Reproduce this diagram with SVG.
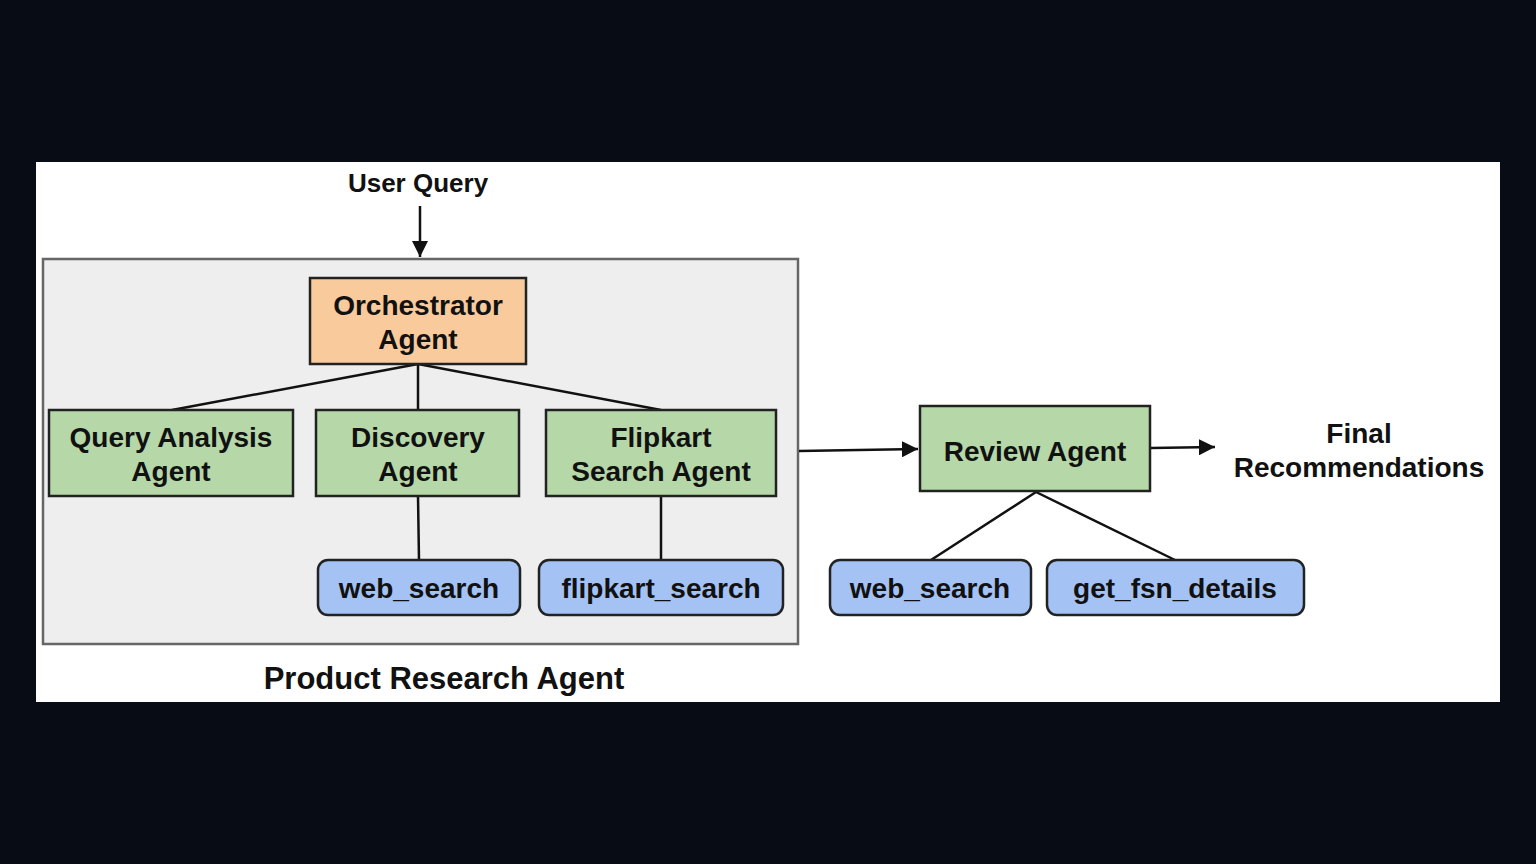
<svg xmlns="http://www.w3.org/2000/svg" width="1536" height="864" viewBox="0 0 1536 864">
<defs>
<style>
.t{font-family:"Liberation Sans",Arial,sans-serif;font-weight:bold;font-size:28px;fill:#111;text-anchor:middle}
.agent{fill:#b6d7a8;stroke:#222;stroke-width:2.5}
.tool{fill:#a4c2f4;stroke:#222;stroke-width:2.5}
.c{stroke:#111;stroke-width:2.5;fill:none}
</style>
<marker id="ah" viewBox="0 0 10 10" refX="10" refY="5" markerWidth="6.5" markerHeight="6.5" orient="auto" markerUnits="strokeWidth">
<path d="M0,0 L10,5 L0,10 z" fill="#111"/>
</marker>
</defs>
<rect x="0" y="0" width="1536" height="864" fill="#080c14"/>
<rect x="36" y="162" width="1464" height="540" fill="#ffffff"/>

<g id="container">
<rect x="43" y="259" width="755" height="385" fill="#eeeeee" stroke="#666" stroke-width="2.5"/>
<text class="t" x="444" y="689" style="font-size:31px">Product Research Agent</text>
</g>

<g id="connectors">
<line class="c" x1="420" y1="206" x2="420" y2="257" marker-end="url(#ah)"/>
<line class="c" x1="418" y1="364" x2="172" y2="410"/>
<line class="c" x1="418" y1="364" x2="418" y2="410"/>
<line class="c" x1="418" y1="364" x2="661" y2="410"/>
<line class="c" x1="418" y1="496" x2="419" y2="560"/>
<line class="c" x1="661" y1="496" x2="661" y2="560"/>
<line class="c" x1="799" y1="451" x2="918" y2="449" marker-end="url(#ah)"/>
<line class="c" x1="1151" y1="448" x2="1215" y2="447" marker-end="url(#ah)"/>
<line class="c" x1="1036" y1="492" x2="931" y2="560"/>
<line class="c" x1="1036" y1="492" x2="1175" y2="560"/>
</g>

<g id="user-query"><text class="t" x="418" y="192" style="font-size:26px">User Query</text></g>

<g id="orchestrator">
<rect x="310" y="278" width="216" height="86" fill="#f9cb9c" stroke="#222" stroke-width="2.5"/>
<text class="t" x="418" y="315">Orchestrator</text>
<text class="t" x="418" y="349">Agent</text>
</g>

<g id="query-analysis">
<rect class="agent" x="49" y="410" width="244" height="86"/>
<text class="t" x="171" y="447">Query Analysis</text>
<text class="t" x="171" y="481">Agent</text>
</g>

<g id="discovery">
<rect class="agent" x="316" y="410" width="203" height="86"/>
<text class="t" x="418" y="447">Discovery</text>
<text class="t" x="418" y="481">Agent</text>
</g>

<g id="flipkart-agent">
<rect class="agent" x="546" y="410" width="230" height="86"/>
<text class="t" x="661" y="447">Flipkart</text>
<text class="t" x="661" y="481">Search Agent</text>
</g>

<g id="web-search-1">
<rect class="tool" x="318" y="560" width="202" height="55" rx="10"/>
<text class="t" x="419" y="598">web_search</text>
</g>

<g id="flipkart-search">
<rect class="tool" x="539" y="560" width="244" height="55" rx="10"/>
<text class="t" x="661" y="598">flipkart_search</text>
</g>

<g id="review-agent">
<rect class="agent" x="920" y="406" width="230" height="85"/>
<text class="t" x="1035" y="461">Review Agent</text>
</g>

<g id="web-search-2">
<rect class="tool" x="830" y="560" width="201" height="55" rx="10"/>
<text class="t" x="930" y="598">web_search</text>
</g>

<g id="get-fsn-details">
<rect class="tool" x="1047" y="560" width="257" height="55" rx="10"/>
<text class="t" x="1175" y="598">get_fsn_details</text>
</g>

<g id="final">
<text class="t" x="1359" y="443">Final</text>
<text class="t" x="1359" y="477">Recommendations</text>
</g>
</svg>
